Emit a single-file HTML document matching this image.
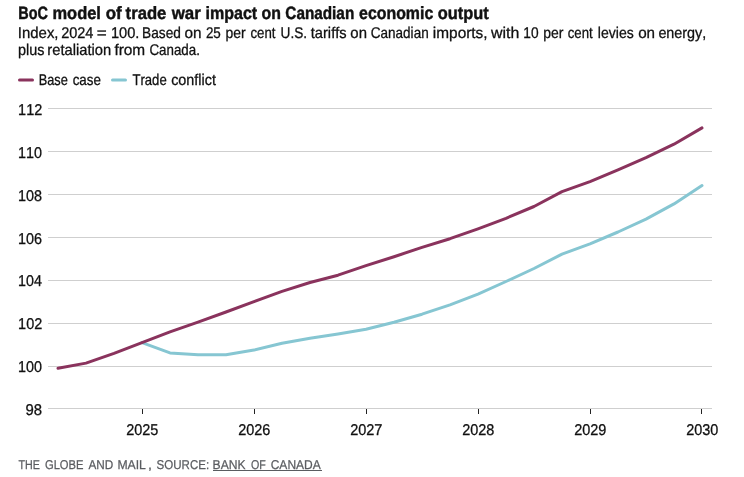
<!DOCTYPE html>
<html lang="en">
<head>
<meta charset="utf-8">
<title>BoC model of trade war impact on Canadian economic output</title>
<style>
html,body{margin:0;padding:0;background:#fff;}
body{width:744px;height:477px;overflow:hidden;}
svg{display:block;will-change:transform;}
text{font-family:"Liberation Sans",sans-serif;font-kerning:none;text-rendering:geometricPrecision;}
.t{fill:#111;stroke:#111;stroke-width:0.45px;}
.s,.ax{fill:#111;stroke:#111;stroke-width:0.3px;}
.t{font-weight:bold;font-size:17.8px;}
.s{font-size:15.5px;}
.ax{font-size:15.6px;}
.ft{font-size:12.8px;fill:#5a5c60;stroke:#5a5c60;stroke-width:0.25px;}
</style>
</head>
<body>
<svg width="744" height="477" viewBox="0 0 744 477">
<rect width="744" height="477" fill="#fff"/>
<text class="t" y="19"><tspan x="18.23" textLength="29.66" lengthAdjust="spacingAndGlyphs">BoC</tspan> <tspan x="52.41" textLength="48.55" lengthAdjust="spacingAndGlyphs">model</tspan> <tspan x="105.64" textLength="16.03" lengthAdjust="spacingAndGlyphs">of</tspan> <tspan x="125.60" textLength="40.77" lengthAdjust="spacingAndGlyphs">trade</tspan> <tspan x="171.65" textLength="29.11" lengthAdjust="spacingAndGlyphs">war</tspan> <tspan x="205.48" textLength="51.72" lengthAdjust="spacingAndGlyphs">impact</tspan> <tspan x="261.48" textLength="19.41" lengthAdjust="spacingAndGlyphs">on</tspan> <tspan x="285.37" textLength="68.88" lengthAdjust="spacingAndGlyphs">Canadian</tspan> <tspan x="359.08" textLength="74.19" lengthAdjust="spacingAndGlyphs">economic</tspan> <tspan x="437.76" textLength="51.04" lengthAdjust="spacingAndGlyphs">output</tspan></text>
<text class="s" y="38"><tspan x="17.82" textLength="40.72" lengthAdjust="spacingAndGlyphs">Index,</tspan> <tspan x="61.17" textLength="32.25" lengthAdjust="spacingAndGlyphs">2024</tspan> <tspan x="96.87" textLength="9.98" lengthAdjust="spacingAndGlyphs">=</tspan> <tspan x="110.89" textLength="28.45" lengthAdjust="spacingAndGlyphs">100.</tspan> <tspan x="142.08" textLength="38.80" lengthAdjust="spacingAndGlyphs">Based</tspan> <tspan x="184.56" textLength="17.04" lengthAdjust="spacingAndGlyphs">on</tspan> <tspan x="205.92" textLength="14.94" lengthAdjust="spacingAndGlyphs">25</tspan> <tspan x="225.40" textLength="20.13" lengthAdjust="spacingAndGlyphs">per</tspan> <tspan x="250.44" textLength="25.06" lengthAdjust="spacingAndGlyphs">cent</tspan> <tspan x="280.55" textLength="26.49" lengthAdjust="spacingAndGlyphs">U.S.</tspan> <tspan x="310.78" textLength="35.85" lengthAdjust="spacingAndGlyphs">tariffs</tspan> <tspan x="350.37" textLength="16.60" lengthAdjust="spacingAndGlyphs">on</tspan> <tspan x="370.81" textLength="57.86" lengthAdjust="spacingAndGlyphs">Canadian</tspan> <tspan x="432.87" textLength="54.71" lengthAdjust="spacingAndGlyphs">imports,</tspan> <tspan x="491.02" textLength="28.31" lengthAdjust="spacingAndGlyphs">with</tspan> <tspan x="523.35" textLength="15.28" lengthAdjust="spacingAndGlyphs">10</tspan> <tspan x="543.20" textLength="20.13" lengthAdjust="spacingAndGlyphs">per</tspan> <tspan x="567.74" textLength="24.96" lengthAdjust="spacingAndGlyphs">cent</tspan> <tspan x="597.86" textLength="35.85" lengthAdjust="spacingAndGlyphs">levies</tspan> <tspan x="638.16" textLength="16.93" lengthAdjust="spacingAndGlyphs">on</tspan> <tspan x="658.39" textLength="47.90" lengthAdjust="spacingAndGlyphs">energy,</tspan></text>
<text class="s" y="55"><tspan x="18.07" textLength="26.45" lengthAdjust="spacingAndGlyphs">plus</tspan> <tspan x="47.32" textLength="63.83" lengthAdjust="spacingAndGlyphs">retaliation</tspan> <tspan x="114.38" textLength="30.83" lengthAdjust="spacingAndGlyphs">from</tspan> <tspan x="149.42" textLength="50.50" lengthAdjust="spacingAndGlyphs">Canada.</tspan></text>
<line x1="19.5" y1="80" x2="32.5" y2="80" stroke="#8a335d" stroke-width="3" stroke-linecap="round"/>
<text class="s" y="85"><tspan x="38.75" textLength="29.12" lengthAdjust="spacingAndGlyphs">Base</tspan> <tspan x="72.63" textLength="28.26" lengthAdjust="spacingAndGlyphs">case</tspan></text>
<line x1="112.5" y1="80" x2="125.5" y2="80" stroke="#86c6d2" stroke-width="3" stroke-linecap="round"/>
<text class="s" y="85"><tspan x="132.41" textLength="34.28" lengthAdjust="spacingAndGlyphs">Trade</tspan> <tspan x="171.19" textLength="44.72" lengthAdjust="spacingAndGlyphs">conflict</tspan></text>
<g stroke="#cfcfcf" stroke-width="1" shape-rendering="crispEdges">
<line x1="48" y1="108.5" x2="712" y2="108.5"/>
<line x1="48" y1="151.5" x2="712" y2="151.5"/>
<line x1="48" y1="194.5" x2="712" y2="194.5"/>
<line x1="48" y1="237.5" x2="712" y2="237.5"/>
<line x1="48" y1="280.5" x2="712" y2="280.5"/>
<line x1="48" y1="323.5" x2="712" y2="323.5"/>
<line x1="48" y1="366.5" x2="712" y2="366.5"/>
<line x1="48" y1="408.5" x2="712" y2="408.5"/>
</g>
<g class="ax">
<text x="18.10" y="115.0" textLength="24.13" lengthAdjust="spacingAndGlyphs">112</text>
<text x="18.11" y="158.0" textLength="23.95" lengthAdjust="spacingAndGlyphs">110</text>
<text x="18.10" y="201.0" textLength="24.02" lengthAdjust="spacingAndGlyphs">108</text>
<text x="18.10" y="244.0" textLength="24.03" lengthAdjust="spacingAndGlyphs">106</text>
<text x="18.11" y="286.0" textLength="23.80" lengthAdjust="spacingAndGlyphs">104</text>
<text x="18.10" y="329.0" textLength="24.13" lengthAdjust="spacingAndGlyphs">102</text>
<text x="18.11" y="372.0" textLength="23.95" lengthAdjust="spacingAndGlyphs">100</text>
<text x="25.60" y="415.0" textLength="16.54" lengthAdjust="spacingAndGlyphs">98</text>
</g>
<g class="ax">
<line x1="142.5" y1="409" x2="142.5" y2="414" stroke="#222" stroke-width="1" shape-rendering="crispEdges"/>
<text x="126.17" y="435" textLength="32.13" lengthAdjust="spacingAndGlyphs">2025</text>
<line x1="254.5" y1="409" x2="254.5" y2="414" stroke="#222" stroke-width="1" shape-rendering="crispEdges"/>
<text x="238.17" y="435" textLength="32.16" lengthAdjust="spacingAndGlyphs">2026</text>
<line x1="366.5" y1="409" x2="366.5" y2="414" stroke="#222" stroke-width="1" shape-rendering="crispEdges"/>
<text x="350.17" y="435" textLength="32.26" lengthAdjust="spacingAndGlyphs">2027</text>
<line x1="478.5" y1="409" x2="478.5" y2="414" stroke="#222" stroke-width="1" shape-rendering="crispEdges"/>
<text x="462.17" y="435" textLength="32.16" lengthAdjust="spacingAndGlyphs">2028</text>
<line x1="590.5" y1="409" x2="590.5" y2="414" stroke="#222" stroke-width="1" shape-rendering="crispEdges"/>
<text x="574.17" y="435" textLength="32.21" lengthAdjust="spacingAndGlyphs">2029</text>
<line x1="701.5" y1="409" x2="701.5" y2="414" stroke="#222" stroke-width="1" shape-rendering="crispEdges"/>
<text x="686.17" y="435" textLength="32.09" lengthAdjust="spacingAndGlyphs">2030</text>
</g>
<path d="M142.0,342.6 L170.0,352.9 L198.0,354.7 L226.0,354.8 L254.0,350.1 L282.0,343.3 L310.0,338.3 L338.0,334.0 L366.0,329.3 L394.0,322.3 L422.0,314.2 L450.0,304.9 L478.0,294.2 L506.0,281.5 L534.0,268.5 L562.0,254.1 L590.0,243.8 L618.0,232.0 L646.0,219.1 L674.0,203.9 L702.0,185.6" fill="none" stroke="#86c6d2" stroke-width="3" stroke-linecap="round" stroke-linejoin="round"/>
<path d="M58.0,368.3 L86.0,363.1 L114.0,353.3 L142.0,342.6 L170.0,331.9 L198.0,322.2 L226.0,312.0 L254.0,301.6 L282.0,291.4 L310.0,282.5 L338.0,275.2 L366.0,265.7 L394.0,256.7 L422.0,247.4 L450.0,238.7 L478.0,228.8 L506.0,218.3 L534.0,206.5 L562.0,191.7 L590.0,181.7 L618.0,169.9 L646.0,157.7 L674.0,144.2 L702.0,127.9" fill="none" stroke="#8a335d" stroke-width="3" stroke-linecap="round" stroke-linejoin="round"/>
<text class="ft" y="469"><tspan x="18.56" textLength="21.40" lengthAdjust="spacingAndGlyphs">THE</tspan> <tspan x="44.94" textLength="38.54" lengthAdjust="spacingAndGlyphs">GLOBE</tspan> <tspan x="88.48" textLength="24.78" lengthAdjust="spacingAndGlyphs">AND</tspan> <tspan x="117.40" textLength="28.51" lengthAdjust="spacingAndGlyphs">MAIL</tspan><tspan x="148.12" textLength="3.96" lengthAdjust="spacingAndGlyphs">,</tspan> <tspan x="156.58" textLength="52.58" lengthAdjust="spacingAndGlyphs">SOURCE:</tspan></text>
<text class="ft" y="469"><tspan x="212.60" textLength="33.03" lengthAdjust="spacingAndGlyphs">BANK</tspan> <tspan x="250.99" textLength="14.83" lengthAdjust="spacingAndGlyphs">OF</tspan> <tspan x="270.69" textLength="50.13" lengthAdjust="spacingAndGlyphs">CANADA</tspan></text>
<line x1="213" y1="470.5" x2="321.8" y2="470.5" stroke="#5a5c60" stroke-width="1" shape-rendering="crispEdges"/>
</svg>
</body>
</html>
